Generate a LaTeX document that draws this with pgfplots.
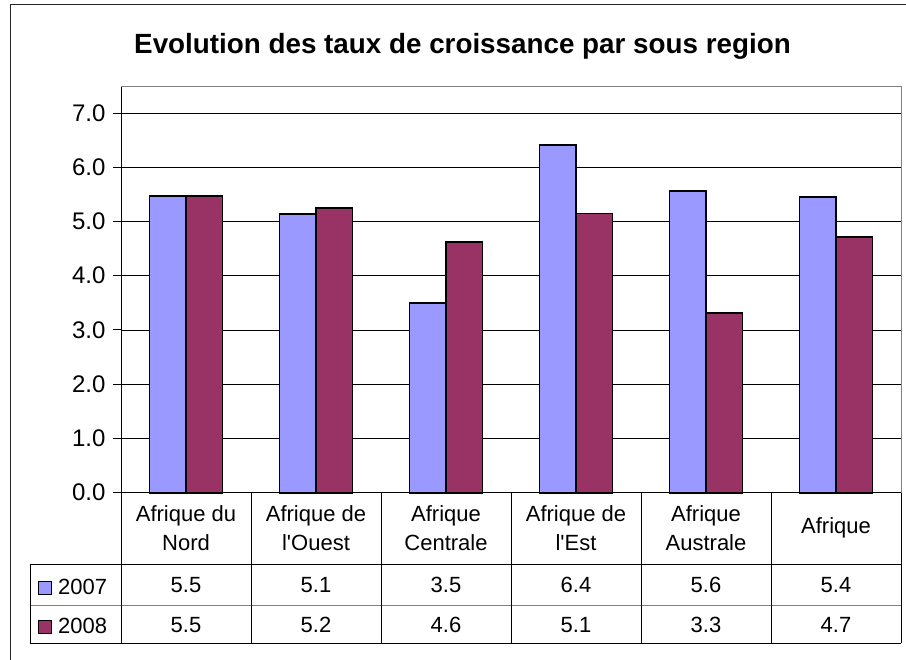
\documentclass[border=0pt]{standalone}
\usepackage{pgfplots}
\pgfplotsset{compat=1.18}
\usepackage{fontspec}
\setmainfont{Liberation Sans}
\definecolor{cA}{RGB}{153,153,255}
\definecolor{cB}{RGB}{153,51,102}
\begin{document}
\begin{tikzpicture}
\path[use as bounding box] (0pt,0pt) rectangle (906pt,-660pt);
\draw[line width=1pt, black!85] (10pt,-660pt) -- (10pt,-5pt) -- (906pt,-5pt);
\node[anchor=base, font=\bfseries\fontsize{27.8}{32}\selectfont, inner sep=0pt] at (462.5pt,-54pt) {Evolution des taux de croissance par sous region};
\begin{axis}[
  at={(121pt,-492.7pt)}, anchor=south west,
  scale only axis, width=780pt, height=406pt,
  xmin=-0.5, xmax=5.5, ymin=0, ymax=7.485,
  axis lines=left, axis line style={-, line width=1pt, black},
  xtick=\empty,
  ytick={0,1,2,3,4,5,6,7},
  ymajorgrids, major grid style={black, line width=0.8pt},
  ytick style={black, line width=1pt}, tick align=outside, major tick length=8pt,
  yticklabel style={xshift=-4pt, font=\fontsize{24}{28}\selectfont, /pgf/number format/fixed, /pgf/number format/fixed zerofill, /pgf/number format/precision=1, /pgf/number format/assume math mode=true},
  ybar=0pt, bar width=36.5pt,
  clip=false,
]
\addplot[fill=cA, draw=black, line width=1.6pt] coordinates {(0,5.47) (1,5.14) (2,3.50) (3,6.41) (4,5.56) (5,5.45)};
\addplot[fill=cB, draw=black, line width=1.6pt] coordinates {(0,5.47) (1,5.25) (2,4.62) (3,5.15) (4,3.31) (5,4.71)};
\end{axis}
% plot area border (gray top/right)
\draw[line width=1pt, gray] (121pt,-86.7pt) -- (901pt,-86.7pt) -- (901pt,-492.7pt);
% data table
\draw[line width=1pt] (30pt,-564pt) -- (901pt,-564pt);
\draw[line width=1pt, gray] (30pt,-605pt) -- (901pt,-605pt);
\draw[line width=1pt] (30pt,-643pt) -- (901pt,-643pt);
\draw[line width=1pt] (30pt,-564pt) -- (30pt,-643pt);
\foreach \k in {0,...,6} {
  \draw[line width=1pt] ({121pt+130pt*\k},-492.7pt) -- ({121pt+130pt*\k},-643pt);
}
\foreach \lab [count=\i from 0] in {{Afrique du\\Nord},{Afrique de\\l\textquotesingle Ouest},{Afrique\\Centrale},{Afrique de\\l\textquotesingle Est},{Afrique\\Australe},{Afrique}} {
  \node[align=center, font=\fontsize{22}{29}\selectfont, inner sep=0pt] at ({186pt+130pt*\i},-528pt) {\lab};
}
\foreach \v [count=\i from 0] in {5.5,5.1,3.5,6.4,5.6,5.4} {
  \node[anchor=base, font=\fontsize{22}{26}\selectfont, inner sep=0pt] at ({186pt+130pt*\i},-592pt) {\v};
}
\foreach \v [count=\i from 0] in {5.5,5.2,4.6,5.1,3.3,4.7} {
  \node[anchor=base, font=\fontsize{22}{26}\selectfont, inner sep=0pt] at ({186pt+130pt*\i},-632pt) {\v};
}
\draw[fill=cA, line width=1pt] (38pt,-581.5pt) rectangle (51pt,-594.5pt);
\node[anchor=base west, font=\fontsize{22}{26}\selectfont, inner sep=0pt] at (58pt,-594pt) {2007};
\draw[fill=cB, line width=1pt] (38pt,-620pt) rectangle (51pt,-633pt);
\node[anchor=base west, font=\fontsize{22}{26}\selectfont, inner sep=0pt] at (58pt,-633pt) {2008};
\end{tikzpicture}
\end{document}
